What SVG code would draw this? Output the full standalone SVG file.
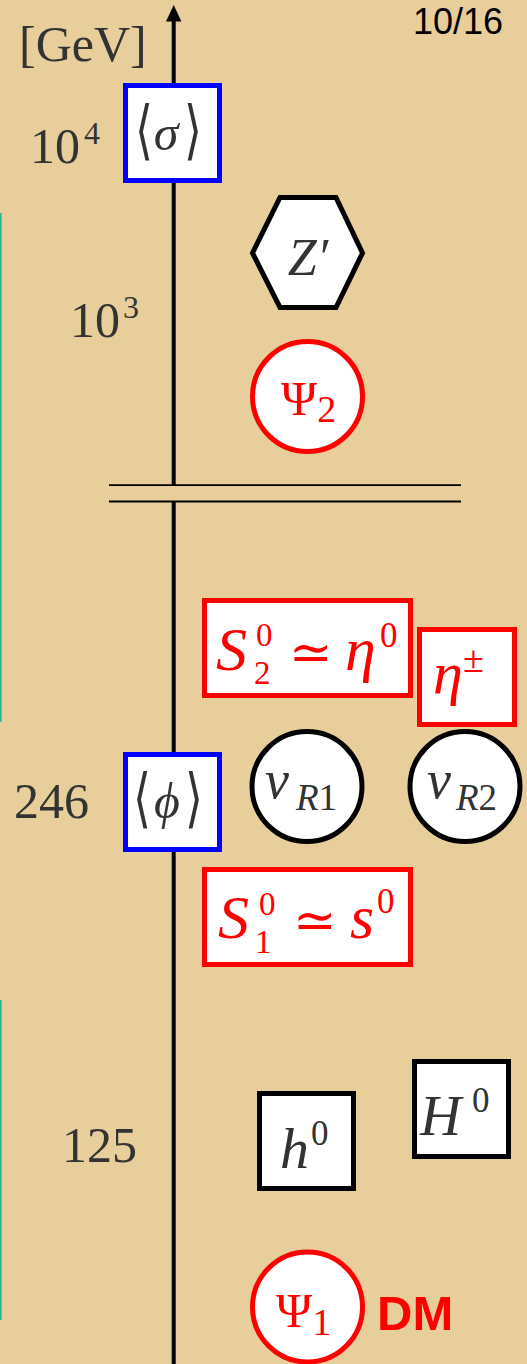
<svg xmlns="http://www.w3.org/2000/svg" width="527" height="1364" viewBox="0 0 527 1364">
  <style>
    .serif { font-family: "Liberation Serif", "DejaVu Serif", serif; fill: #333; }
    .it { font-style: italic; }
    .red { fill: #ff0000; }
    .lab { font-family: "Liberation Serif", "DejaVu Serif", serif; fill: #333; font-size: 50px; }
    .br { font-family: "Liberation Serif", "DejaVu Serif", serif; fill: #333; font-size: 46px; }
    .bbox { fill: #fff; stroke: #0000ff; stroke-width: 5; }
    .rbox { fill: #fff; stroke: #ff0000; stroke-width: 5; }
    .kbox { fill: #fff; stroke: #000; stroke-width: 5; }
  </style>
  <rect x="0" y="0" width="527" height="1364" fill="#e7ce9a"/>
  <line x1="0.8" y1="213" x2="0.8" y2="722" stroke="#2bb39a" stroke-width="1.6"/>
  <line x1="0.8" y1="1000" x2="0.8" y2="1320" stroke="#2bb39a" stroke-width="1.6"/>

  <g id="axis">
    <line x1="173.7" y1="20" x2="173.7" y2="485" stroke="#000" stroke-width="4"/>
    <line x1="173.7" y1="502" x2="173.7" y2="1364" stroke="#000" stroke-width="4"/>
    <polygon points="173.7,5 166,21.5 181.4,21.5" fill="#000"/>
    <line x1="109" y1="485.2" x2="461" y2="485.2" stroke="#000" stroke-width="1.8"/>
    <line x1="109" y1="501.5" x2="461" y2="501.5" stroke="#000" stroke-width="1.8"/>
  </g>

  <g id="labels">
    <text x="19" y="61" class="serif" font-size="50">[GeV]</text>
    <text x="503" y="34" text-anchor="end" font-family="Liberation Sans, Arial, sans-serif" font-size="36" fill="#000">10/16</text>
    <text x="30" y="163" class="lab">10<tspan x="84" font-size="32" dy="-19">4</tspan></text>
    <text x="70" y="337" class="lab">10<tspan x="123" font-size="32" dy="-19">3</tspan></text>
    <text x="14" y="818" class="lab">246</text>
    <text x="62" y="1162" class="lab">125</text>
    <text x="377" y="1330" font-family="Liberation Sans, Arial, sans-serif" font-weight="bold" font-size="49" fill="#ff0000">DM</text>
  </g>

  <g id="sigma">
    <rect x="125.5" y="85.5" width="94" height="95" class="bbox"/>
    <text transform="translate(0,152) scale(1,1.4)" class="br"><tspan x="135" y="0">⟨</tspan><tspan x="184" y="0">⟩</tspan></text>
    <text x="166" y="150" text-anchor="middle" class="serif it" font-size="50">σ</text>
  </g>

  <g id="zprime">
    <polygon points="252.5,253 280,197.5 336,197.5 362.5,253 336,307.5 280,307.5" class="kbox"/>
    <text x="308" y="275" text-anchor="middle" class="serif it" font-size="52">Z′</text>
  </g>

  <g id="psi2">
    <circle cx="307.5" cy="396.5" r="55" class="rbox"/>
    <text x="281" y="415" class="serif red" font-size="49">Ψ<tspan font-size="38" dy="7">2</tspan></text>
  </g>

  <g id="s2eta0">
    <rect x="204.5" y="600.5" width="206" height="95" class="rbox"/>
    <text class="serif red" font-size="62">
      <tspan x="216" y="670" class="it">S</tspan>
      <tspan x="289" y="670" font-size="52">≃</tspan>
      <tspan x="345" y="670" class="it">η</tspan>
      <tspan x="380" y="647" font-size="35">0</tspan>
    </text>
    <text x="256" y="646" class="serif red" font-size="33">0</text>
    <text x="254" y="684" class="serif red" font-size="33">2</text>
  </g>

  <g id="etapm">
    <rect x="419.5" y="629.5" width="95" height="95" class="rbox"/>
    <text class="serif red" font-size="60">
      <tspan x="433" y="693" class="it">η</tspan>
      <tspan x="463" y="672" font-size="38">±</tspan>
    </text>
  </g>

  <g id="phi">
    <rect x="125.5" y="754.5" width="94" height="95" class="bbox"/>
    <text transform="translate(0,820) scale(1,1.4)" class="br"><tspan x="133" y="0">⟨</tspan><tspan x="185" y="0">⟩</tspan></text>
    <text x="167" y="818" text-anchor="middle" class="serif it" font-size="50">ϕ</text>
  </g>

  <g id="nuR1">
    <circle cx="307" cy="786.5" r="55" class="kbox"/>
    <text class="serif" font-size="54">
      <tspan x="265" y="798" class="it">ν</tspan>
      <tspan x="296" y="810" font-size="37"><tspan class="it">R</tspan>1</tspan>
    </text>
  </g>

  <g id="nuR2">
    <circle cx="465" cy="786.5" r="55" class="kbox"/>
    <text class="serif" font-size="54">
      <tspan x="427" y="798" class="it">ν</tspan>
      <tspan x="456" y="810" font-size="37"><tspan class="it">R</tspan>2</tspan>
    </text>
  </g>

  <g id="s1s0">
    <rect x="204.5" y="869.5" width="206" height="95" class="rbox"/>
    <text class="serif red" font-size="62">
      <tspan x="218" y="938" class="it">S</tspan>
      <tspan x="293" y="938" font-size="52">≃</tspan>
      <tspan x="350" y="938" class="it">s</tspan>
      <tspan x="377" y="913" font-size="35">0</tspan>
    </text>
    <text x="259" y="915" class="serif red" font-size="33">0</text>
    <text x="255" y="953" class="serif red" font-size="33">1</text>
  </g>

  <g id="h0">
    <rect x="259.5" y="1093.5" width="94" height="95" class="kbox"/>
    <text class="serif" font-size="58">
      <tspan x="280" y="1168" class="it">h</tspan>
      <tspan x="311" y="1145" font-size="35">0</tspan>
    </text>
  </g>

  <g id="H0">
    <rect x="414.5" y="1061.5" width="94" height="95" class="kbox"/>
    <text class="serif" font-size="57">
      <tspan x="420" y="1135" class="it">H</tspan>
      <tspan x="472" y="1112" font-size="35">0</tspan>
    </text>
  </g>

  <g id="psi1">
    <circle cx="307.5" cy="1307" r="55" class="rbox"/>
    <text x="276" y="1327" class="serif red" font-size="49">Ψ<tspan font-size="38" dy="8">1</tspan></text>
  </g>
</svg>
